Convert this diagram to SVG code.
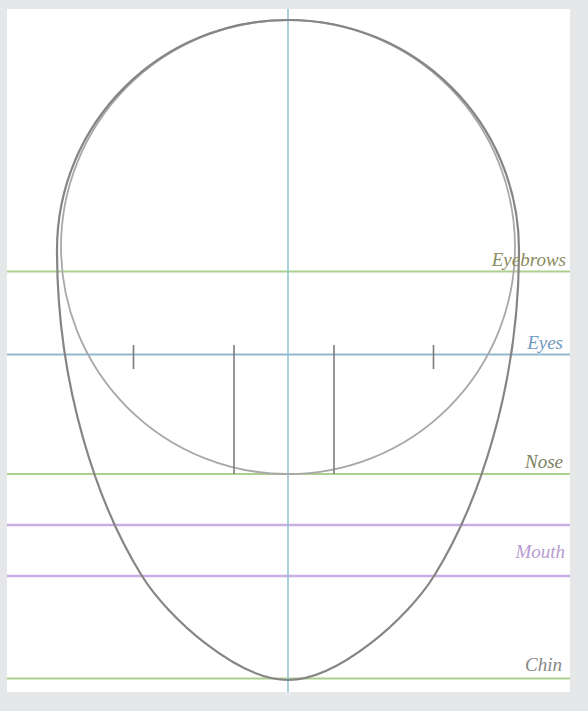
<svg xmlns="http://www.w3.org/2000/svg" width="588" height="711" viewBox="0 0 588 711">
  <style>
    .g { stroke: #aed08f; stroke-width: 2; }
    .b { stroke: #92b9cc; stroke-width: 2; }
    .p { stroke: #c8aee3; stroke-width: 2.5; }
    .v { stroke: #8ec0cf; stroke-width: 1.5; }
    .tick { stroke: #7c7c7c; stroke-width: 1.6; }
    .lbl { font-family: "Liberation Serif", "DejaVu Serif", serif; font-style: italic; font-size: 19px; text-anchor: end; }
  </style>
  <rect x="0" y="0" width="588" height="711" fill="#e6e7e9"/>
  <rect x="7" y="9" width="563" height="683" fill="#ffffff"/>

  <g id="guides">
    <line class="g" x1="7" y1="271.5" x2="570" y2="271.5"/>
    <line class="b" x1="7" y1="354.5" x2="570" y2="354.5"/>
    <line class="g" x1="7" y1="474" x2="570" y2="474"/>
    <line class="p" x1="7" y1="525" x2="570" y2="525"/>
    <line class="p" x1="7" y1="576" x2="570" y2="576"/>
    <line class="g" x1="7" y1="678.5" x2="570" y2="678.5"/>
    <line class="v" x1="288" y1="9" x2="288" y2="692"/>
  </g>

  <g id="circle">
    <circle cx="288" cy="247" r="227" fill="none" stroke="#a8a8a8" stroke-width="1.8"/>
  </g>

  <g id="head">
    <path fill="none" stroke="#858585" stroke-width="2.2" d="M57,250 C57,123 160,20 288,20 C416,20 519,123 519,250 C519,390 476.4,508 434,576 C407.5,618.5 338,680 288,680 C238,680 168.5,618.5 142,576 C99.6,508 57,390 57,250 Z"/>
  </g>

  <g id="eye-marks">
    <line class="tick" x1="133.5" y1="345" x2="133.5" y2="369"/>
    <line class="tick" x1="433.5" y1="345" x2="433.5" y2="369"/>
    <line class="tick" x1="234" y1="345" x2="234" y2="474"/>
    <line class="tick" x1="334" y1="345" x2="334" y2="474"/>
  </g>

  <g id="labels">
    <text class="lbl" x="566" y="266" fill="#8b8b60">Eyebrows</text>
    <text class="lbl" x="563" y="349" fill="#6f9ac0">Eyes</text>
    <text class="lbl" x="563" y="468" fill="#7b8062">Nose</text>
    <text class="lbl" x="565" y="558" fill="#b99bd2">Mouth</text>
    <text class="lbl" x="562" y="671" fill="#888888">Chin</text>
  </g>
</svg>
